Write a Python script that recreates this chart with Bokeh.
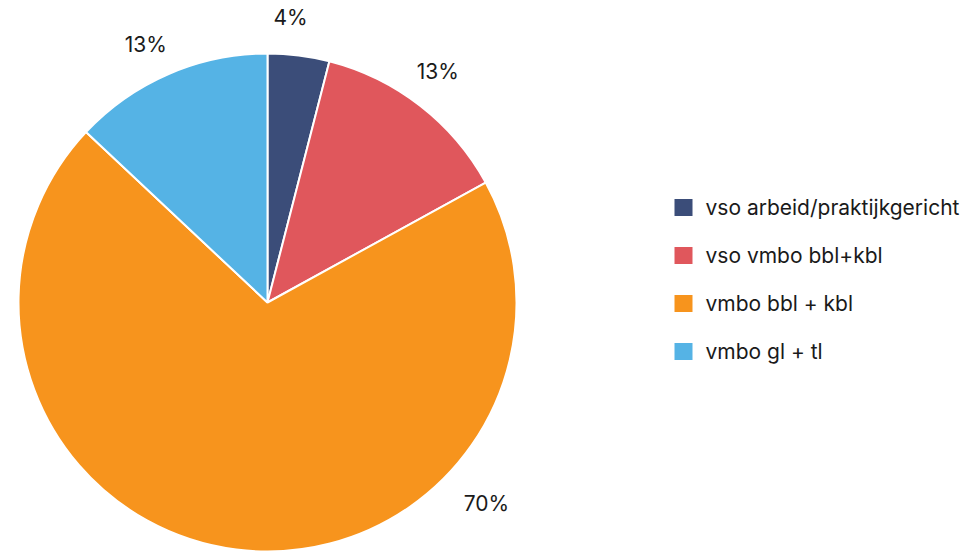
import math
from bokeh.plotting import figure
from bokeh.models import ColumnDataSource
from bokeh.core.properties import value
from bokeh.embed import file_html
from bokeh.resources import INLINE

categories = ["vso arbeid/praktijkgericht", "vso vmbo bbl+kbl", "vmbo bbl + kbl", "vmbo gl + tl"]
shares = [4, 13, 70, 13]
labels = ["4%", "13%", "70%", "13%"]
colors = ["#3b4d79", "#e0575c", "#f7941d", "#55b3e5"]
label_frac = [0.32, 0.47, 0.283, 0.46]  # where along each slice its label sits
label_rad = [286, 287, 297, 285]

W, H = 963, 552
cx, cy, R = 267, 250, 249
p = figure(width=W, height=H, x_range=(0, W), y_range=(0, H),
           output_backend="svg", toolbar_location=None, min_border=0)
p.axis.visible = False
p.grid.visible = False
p.outline_line_color = None
p.background_fill_color = "white"

total = sum(shares)
starts, ends, lx, ly = [], [], [], []
cum = 0.0
for s, f, lr in zip(shares, label_frac, label_rad):
    a0 = math.pi / 2 - 2 * math.pi * cum / total
    a1 = math.pi / 2 - 2 * math.pi * (cum + s) / total
    starts.append(a1)
    ends.append(a0)
    am = math.pi / 2 - 2 * math.pi * (cum + f * s) / total
    lx.append(cx + lr * math.cos(am))
    ly.append(cy + lr * math.sin(am))
    cum += s

src = ColumnDataSource(dict(start=starts, end=ends, color=colors, lx=lx, ly=ly, label=labels))
p.wedge(x=cx, y=cy, radius=R, start_angle="start", end_angle="end", fill_color="color",
        line_color="white", line_width=2, source=src)
p.text(x="lx", y="ly", text="label", source=src, text_align="center", text_baseline="middle",
       text_font=value("Inter"), text_font_size="21px", text_color="#1a1a1a")

# legend
ys = [H - 207 - 48 * i for i in range(len(categories))]
leg = ColumnDataSource(dict(y=ys, color=colors, name=categories))
p.rect(x=683, y="y", width=18, height=17, fill_color="color", line_color=None, source=leg)
p.text(x=705, y="y", text="name", source=leg, text_baseline="middle",
       text_font=value("Inter"), text_font_size="21px", text_color="#1a1a1a")

open("out.html", "w").write(file_html(p, INLINE))
